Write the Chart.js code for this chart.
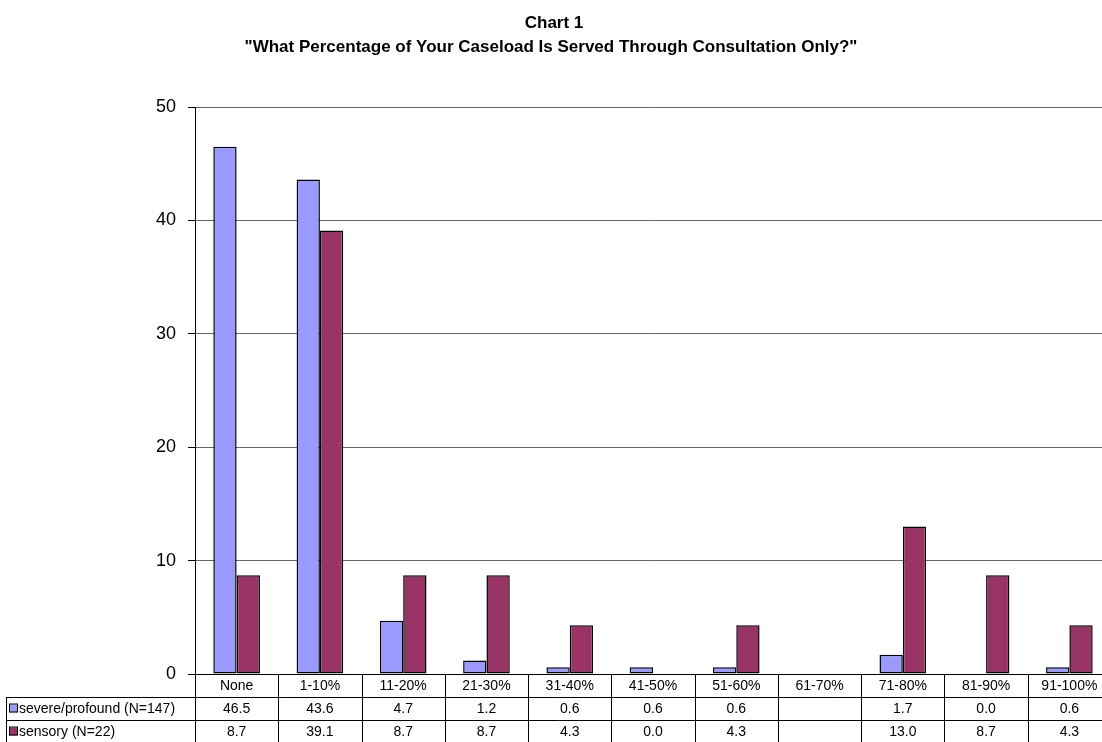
<!DOCTYPE html>
<html>
<head>
<meta charset="utf-8">
<script src="https://cdn.jsdelivr.net/npm/chart.js@4.4.1/dist/chart.umd.min.js"></script>
<style>
  html, body { margin: 0; padding: 0; background: #fff; overflow: hidden; }
  canvas { display: block; }
</style>
</head>
<body>
<canvas id="chart" width="1112" height="742"></canvas>
<script>
// data
const categories = ['None', '1-10%', '11-20%', '21-30%', '31-40%', '41-50%', '51-60%', '61-70%', '71-80%', '81-90%', '91-100%'];
const severeValues = [46.5, 43.6, 4.7, 1.2, 0.6, 0.6, 0.6, null, 1.7, 0.0, 0.6];
const sensoryValues = [8.7, 39.1, 8.7, 8.7, 4.3, 0.0, 4.3, null, 13.0, 8.7, 4.3];
const seriesNames = ['severe/profound (N=147)', 'sensory (N=22)'];
const seriesColors = ['#9999FF', '#993366'];
const yTicks = [0, 10, 20, 30, 40, 50];

const titleLines = ['Chart 1', '"What Percentage of Your Caseload Is Served Through Consultation Only?"'];
const FONT = '"Liberation Sans", Arial, sans-serif';

// draws the title and the data table under the plot
const tablePlugin = {
    id: 'dataTable',
    afterDraw(chart) {
        const ctx = chart.ctx;
        const area = chart.chartArea;
        const xs = chart.scales.x;
        const colW = (area.right - area.left) / categories.length;
        const rowH = 23;
        const top = area.bottom;

        ctx.save();
        ctx.fillStyle = '#000';
        ctx.textAlign = 'center';
        ctx.textBaseline = 'alphabetic';
        ctx.font = 'bold 17px ' + FONT;
        ctx.fillText(titleLines[0], 554, 28);
        ctx.fillText(titleLines[1], 551, 52);

        // grid of the table
        ctx.strokeStyle = '#000';
        ctx.lineWidth = 1;
        ctx.beginPath();
        for (let i = 0; i <= categories.length; i++) {
            const x = Math.round(area.left + i * colW) + 0.5;
            ctx.moveTo(x, top);
            ctx.lineTo(x, top + rowH * 3);
        }
        ctx.moveTo(area.left, top + 0.5);
        ctx.lineTo(area.right, top + 0.5);
        for (let r = 1; r <= 2; r++) {
            const y = top + rowH * r + 0.5;
            ctx.moveTo(6, y);
            ctx.lineTo(area.right, y);
        }
        ctx.moveTo(6.5, top + rowH);
        ctx.lineTo(6.5, top + rowH * 3);
        ctx.stroke();

        ctx.textBaseline = 'middle';
        ctx.font = '14px ' + FONT;
        categories.forEach((c, i) => {
            const cx = xs.getPixelForValue(i);
            ctx.fillText(c, cx, top + rowH * 0.5 + 1);
            const a = severeValues[i];
            const b = sensoryValues[i];
            if (a !== null) ctx.fillText(a.toFixed(1), cx, top + rowH * 1.5 + 1);
            if (b !== null) ctx.fillText(b.toFixed(1), cx, top + rowH * 2.5 + 1);
        });

        // legend keys inside the row headers
        ctx.textAlign = 'left';
        seriesNames.forEach((name, r) => {
            const cy = top + rowH * (r + 1.5);
            ctx.fillStyle = seriesColors[r];
            ctx.fillRect(9, cy - 4, 8, 8);
            ctx.strokeRect(9.5, cy - 4.5, 8, 8);
            ctx.fillStyle = '#000';
            ctx.fillText(name, 19, cy + 1);
        });
        ctx.restore();
    }
};

new Chart(document.getElementById('chart'), {
    type: 'bar',
    data: {
        labels: categories,
        datasets: [
            {
                label: seriesNames[0],
                data: severeValues,
                backgroundColor: seriesColors[0],
                borderColor: '#000',
                borderWidth: 1.5,
                borderSkipped: false,
            },
            {
                label: seriesNames[1],
                data: sensoryValues,
                backgroundColor: seriesColors[1],
                borderColor: '#000',
                borderWidth: 1.5,
                borderSkipped: false,
            },
        ],
    },
    options: {
        responsive: false,
        animation: false,
        devicePixelRatio: 1,
        layout: { padding: { top: 107, bottom: 68, left: 0, right: 1 } },
        datasets: { bar: { categoryPercentage: 0.56, barPercentage: 1.0 } },
        plugins: {
            legend: { display: false },
            title: { display: false },
            tooltip: { enabled: false },
        },
        scales: {
            x: { display: false },
            y: {
                min: 0,
                max: 50,
                afterBuildTicks: (scale) => { scale.ticks = yTicks.map(v => ({ value: v })); },
                afterFit: (scale) => { scale.width = 195; },
                border: { display: true, color: '#000', width: 1 },
                grid: {
                    color: (c) => c.tick && c.tick.value === 0 ? '#000' : '#666',
                    tickColor: '#000',
                    tickLength: 7,
                },
                ticks: {
                    color: '#000',
                    padding: 12,
                    font: { family: FONT, size: 18 },
                },
            },
        },
    },
    plugins: [tablePlugin],
});
</script>
</body>
</html>
